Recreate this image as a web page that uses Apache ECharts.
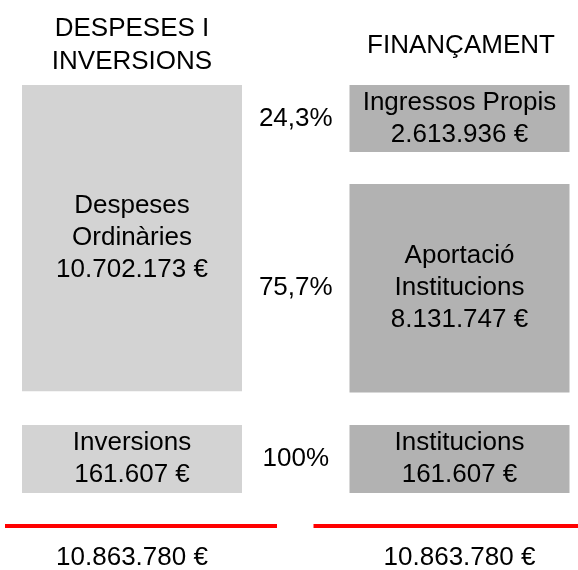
<!DOCTYPE html>
<html>
<head>
<meta charset="utf-8">
<script src="https://cdn.jsdelivr.net/npm/echarts@6/dist/echarts.min.js"></script>
<style>
  html, body { margin: 0; padding: 0; background: #fff; }
  #chart { width: 578px; height: 570px; }
</style>
</head>
<body>
<div id="chart"></div>
<script>
// column headings
const columnTitles = ['DESPESES I\nINVERSIONS', 'FINANÇAMENT'];

// upper block: current spending vs. its funding
const despesesNames = ['Despeses\nOrdinàries'];
const despesesValues = [10702173];
const financamentNames = ['Ingressos Propis', 'Aportació\nInstitucions'];
const financamentValues = [2613936, 8131747];
const financamentPct = ['24,3%', '75,7%'];

// lower block: investments vs. its funding
const inversionsNames = ['Inversions', 'Institucions'];
const inversionsValues = [161607, 161607];
const inversionsPct = ['100%'];

// totals under the red rules
const totals = [10863780, 10863780];

// styles
const FONT = 'Liberation Sans, Arial, sans-serif';
const FILL = ['#d3d3d3', '#b2b2b2'];
const BOX_HALF = 110;
const GAP = 32;
const RULE = [[-127, 145], [-146, 125]];

const euro = v => String(v).replace(/\B(?=(\d{3})+(?!\d))/g, '.') + ' €';
const sum = a => a.reduce((s, v) => s + v, 0);

// build stacked items for one column
function stack(names, values, col, pct) {
  let acc = 0;
  return values.map((v, i) => {
    const it = { col, start: acc, end: acc + v, value: v, name: names[i],
                 idx: i, n: values.length, total: sum(values), pct: pct ? pct[i] : null };
    acc += v;
    return it;
  });
}

const topItems = [
  ...stack(despesesNames, despesesValues, 0),
  ...stack(financamentNames, financamentValues, 1, financamentPct)
];
const lowItems = [
  { col: 0, start: 0, end: inversionsValues[0], value: inversionsValues[0], name: inversionsNames[0], idx: 0, n: 1, total: inversionsValues[0], pct: null },
  { col: 1, start: 0, end: inversionsValues[1], value: inversionsValues[1], name: inversionsNames[1], idx: 0, n: 1, total: inversionsValues[1], pct: inversionsPct[0] }
];

function boxRenderer(items) {
  return function (params, api) {
    const it = items[params.dataIndex];
    const cx = api.coord([it.col, it.start])[0];
    const colTop = api.coord([it.col, 0])[1];
    const colBot = api.coord([it.col, it.total])[1];
    const H = colBot - colTop;
    const k = (H - GAP * (it.n - 1)) / H;
    const y0 = colTop + (api.coord([it.col, it.start])[1] - colTop) * k + GAP * it.idx;
    const y1 = colTop + (api.coord([it.col, it.end])[1] - colTop) * k + GAP * it.idx;
    const children = [
      { type: 'rect', shape: { x: cx - BOX_HALF, y: y0, width: BOX_HALF * 2, height: y1 - y0 },
        style: { fill: FILL[it.col] } },
      { type: 'text', x: cx, y: (y0 + y1) / 2,
        style: { text: it.name + '\n' + euro(it.value), align: 'center', verticalAlign: 'middle',
                 font: '26px ' + FONT, lineHeight: 32, fill: '#000' } }
    ];
    if (it.pct) {
      const leftEdge = api.coord([0, 0])[0] + BOX_HALF;
      const rightEdge = api.coord([1, 0])[0] - BOX_HALF;
      children.push({ type: 'text', x: (leftEdge + rightEdge) / 2, y: (y0 + y1) / 2,
        style: { text: it.pct, align: 'center', verticalAlign: 'middle',
                 font: '26px ' + FONT, fill: '#000' } });
    }
    return { type: 'group', children };
  };
}

function totalRenderer(params, api) {
  const col = params.dataIndex;
  const p0 = api.coord([col, 0]);
  const p1 = api.coord([col, 1]);
  return {
    type: 'group',
    children: [
      { type: 'line', shape: { x1: p0[0] + RULE[col][0], y1: p0[1], x2: p0[0] + RULE[col][1], y2: p0[1] },
        style: { stroke: '#ff0000', lineWidth: 4 } },
      { type: 'text', x: p1[0], y: p1[1],
        style: { text: euro(api.value(1)), align: 'center', verticalAlign: 'middle',
                 font: '26px ' + FONT, fill: '#000' } }
    ]
  };
}

const gridBase = { left: 132, right: 118.5, containLabel: false };
const hiddenX = i => ({ type: 'value', gridIndex: i, min: 0, max: 1, show: false });

const option = {
  animation: false,
  title: columnTitles.map((t, i) => ({
    text: t,
    left: i === 0 ? 132 : 461,
    top: i === 0 ? 45 : 46,
    padding: 0,
    textAlign: 'center',
    textVerticalAlign: 'middle',
    textStyle: { fontFamily: FONT, fontSize: 26, fontWeight: 'normal', lineHeight: 33, color: '#000' }
  })),
  grid: [
    Object.assign({ top: 85, height: 307.5 }, gridBase),
    Object.assign({ top: 425, height: 68 }, gridBase),
    Object.assign({ top: 526, height: 32 }, gridBase)
  ],
  xAxis: [hiddenX(0), hiddenX(1), hiddenX(2)],
  yAxis: [
    { type: 'value', gridIndex: 0, min: 0, max: Math.max(sum(despesesValues), sum(financamentValues)), inverse: true, show: false },
    { type: 'value', gridIndex: 1, min: 0, max: Math.max(...inversionsValues), inverse: true, show: false },
    { type: 'value', gridIndex: 2, min: 0, max: 1, inverse: true, show: false }
  ],
  series: [
    { type: 'custom', xAxisIndex: 0, yAxisIndex: 0, clip: false,
      data: topItems.map(it => [it.col, it.start, it.end]), renderItem: boxRenderer(topItems) },
    { type: 'custom', xAxisIndex: 1, yAxisIndex: 1, clip: false,
      data: lowItems.map(it => [it.col, it.start, it.end]), renderItem: boxRenderer(lowItems) },
    { type: 'custom', xAxisIndex: 2, yAxisIndex: 2, clip: false,
      data: totals.map((t, i) => [i, t]), renderItem: totalRenderer }
  ]
};

const chart = echarts.init(document.getElementById('chart'));
chart.setOption(option);
</script>
</body>
</html>
